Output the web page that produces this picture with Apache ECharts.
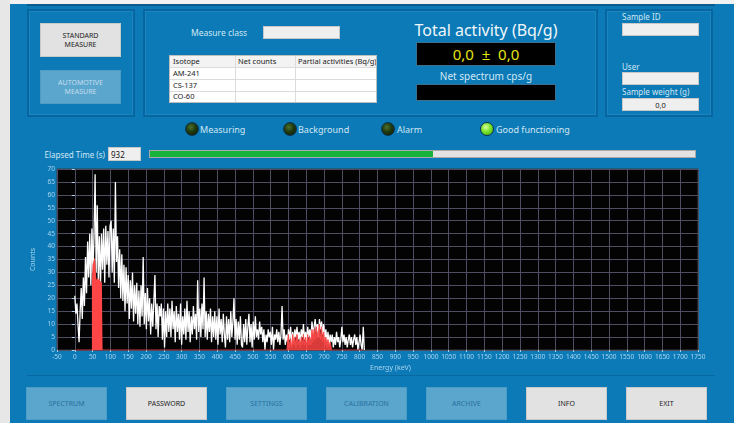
<!DOCTYPE html>
<html>
<head>
<meta charset="utf-8">
<script src="https://cdn.jsdelivr.net/npm/echarts@6/dist/echarts.min.js"></script>
<style>
  html,body{margin:0;padding:0;width:734px;height:423px;overflow:hidden;background:#f2f2f2;font-family:'Noto Sans','Open Sans',sans-serif;}
  .abs{position:absolute;box-sizing:border-box;}
  #main{left:10px;top:4px;width:724px;height:419px;background:#0b7ab6;}
  #leftstrip{left:0;top:0;width:10px;height:423px;background:#e7e7e7;}
  #topline{left:27px;top:4px;width:688px;height:2px;background:#0a5c8f;}
  .panel{border:2px solid #0766a0;box-shadow:inset 0 0 0 1px #1a86c0;}
  .btn{display:flex;align-items:center;justify-content:center;text-align:center;font-size:7px;line-height:9px;}
  .gbtn{background:#e2e2e2;border:1px solid #c9c9c9;color:#222;}
  .bbtn{background:#5ba6cd;border:1px solid #4d9cc6;color:#2a70a0;}
  .lbl{color:#d2e7f4;white-space:nowrap;}
  .inp{background:#efefef;border:1px solid #c8c8c8;}
  .blk{background:#000;border:1px solid #3d6f8f;}
  .led{width:14px;height:14px;border-radius:50%;border:1px solid #0d3350;}
  .ledoff{background:radial-gradient(circle at 40% 35%,#4d7030 0,#1f3a0e 45%,#0c1806 100%);}
  .ledon{background:radial-gradient(circle at 40% 35%,#d8ff9a 0,#77e42a 45%,#3f9d12 100%);}
  .cell{position:absolute;font-size:7.5px;color:#222;line-height:11px;padding-left:3px;white-space:nowrap;box-sizing:border-box;height:12px;border-bottom:1px solid #dcdcdc;}
  .vl{position:absolute;top:0;width:1px;height:46px;background:#dcdcdc;}
  #chart{left:0;top:0;width:734px;height:423px;}
</style>
</head>
<body>
<div class="abs" id="leftstrip"></div>
<div class="abs" id="main"></div>
<div class="abs" id="topline"></div>

<div class="abs panel" style="left:27px;top:9px;width:108px;height:108px;"></div>
<div class="abs panel" style="left:143px;top:9px;width:455px;height:108px;"></div>
<div class="abs panel" style="left:605px;top:9px;width:108px;height:108px;"></div>

<div class="abs btn gbtn" style="left:40px;top:23px;width:81px;height:34px;">STANDARD<br>MEASURE</div>
<div class="abs btn" style="left:40px;top:70px;width:81px;height:34px;background:#5ba6cd;border:1px solid #4d9cc6;color:#c3ddee;">AUTOMOTIVE<br>MEASURE</div>

<div class="abs lbl" style="left:191px;top:27px;font-size:8.5px;">Measure class</div>
<div class="abs inp" style="left:263px;top:26px;width:77px;height:13px;"></div>

<div class="abs" style="left:169px;top:55px;width:208px;height:48px;background:#fff;border:1px solid #bdbdbd;overflow:hidden;">
  <div class="cell" style="left:0;top:0;width:206px;background:#f3f3f3;"></div>
  <div class="cell" style="left:0;top:0;width:65px;">Isotope</div>
  <div class="cell" style="left:65px;top:0;width:60px;">Net counts</div>
  <div class="cell" style="left:125px;top:0;width:81px;">Partial activities (Bq/g)</div>
  <div class="cell" style="left:0;top:12px;width:206px;">AM-241</div>
  <div class="cell" style="left:0;top:24px;width:206px;">CS-137</div>
  <div class="cell" style="left:0;top:35px;width:206px;border-bottom:none;">CO-60</div>
  <div class="vl" style="left:65px;"></div>
  <div class="vl" style="left:125px;"></div>
</div>

<div class="abs" style="left:406px;top:19px;width:160px;text-align:center;color:#f2f7fb;font-size:16px;">Total activity (Bq/g)</div>
<div class="abs blk" style="left:416px;top:42px;width:140px;height:24px;text-align:center;color:#e4e414;font-size:15px;line-height:22px;">0,0 &nbsp;±&nbsp; 0,0</div>
<div class="abs" style="left:406px;top:69px;width:160px;text-align:center;color:#d2e7f4;font-size:10px;">Net spectrum cps/g</div>
<div class="abs blk" style="left:416px;top:84px;width:140px;height:17px;"></div>

<div class="abs lbl" style="left:622px;top:11px;font-size:8px;">Sample ID</div>
<div class="abs inp" style="left:622px;top:23px;width:77px;height:13px;"></div>
<div class="abs lbl" style="left:622px;top:61px;font-size:8px;">User</div>
<div class="abs inp" style="left:622px;top:72px;width:77px;height:13px;"></div>
<div class="abs lbl" style="left:622px;top:86px;font-size:8px;">Sample weight (g)</div>
<div class="abs inp" style="left:622px;top:98px;width:77px;height:13px;text-align:center;font-size:7.5px;line-height:12px;color:#222;">0,0</div>

<div class="abs led ledoff" style="left:185px;top:122px;"></div>
<div class="abs lbl" style="left:200px;top:123px;font-size:9px;">Measuring</div>
<div class="abs led ledoff" style="left:283px;top:122px;"></div>
<div class="abs lbl" style="left:298px;top:123px;font-size:9px;">Background</div>
<div class="abs led ledoff" style="left:381px;top:122px;"></div>
<div class="abs lbl" style="left:397px;top:123px;font-size:9px;">Alarm</div>
<div class="abs led ledon" style="left:480px;top:122px;"></div>
<div class="abs lbl" style="left:496px;top:123px;font-size:9px;">Good functioning</div>

<div class="abs lbl" style="left:0;top:149px;width:105px;text-align:right;font-size:8px;">Elapsed Time (s)</div>
<div class="abs inp" style="left:108px;top:147px;width:33px;height:14px;font-size:8px;line-height:13px;padding-left:2px;color:#111;">932</div>
<div class="abs" style="left:149px;top:150px;width:547px;height:8px;background:#e3e3e3;border:1px solid #a9a9a9;">
  <div class="abs" style="left:0;top:0;width:283px;height:6px;background:#17b33a;"></div>
</div>

<div class="abs" style="left:27px;top:375px;width:688px;height:1px;background:#0868a2;"></div>
<div class="abs btn bbtn" style="left:26px;top:387px;width:81px;height:33px;">SPECTRUM</div>
<div class="abs btn gbtn" style="left:126px;top:387px;width:81px;height:33px;">PASSWORD</div>
<div class="abs btn bbtn" style="left:226px;top:387px;width:81px;height:33px;">SETTINGS</div>
<div class="abs btn bbtn" style="left:326px;top:387px;width:81px;height:33px;">CALIBRATION</div>
<div class="abs btn bbtn" style="left:426px;top:387px;width:81px;height:33px;">ARCHIVE</div>
<div class="abs btn gbtn" style="left:526px;top:387px;width:81px;height:33px;">INFO</div>
<div class="abs btn gbtn" style="left:626px;top:387px;width:81px;height:33px;">EXIT</div>

<div class="abs" id="chart"></div>

<script>
// ---- data ----
const CH_STEP_KEV = 3; // channel width (keV); channel i at i*3 keV
const spectrumCounts = [
  21,14,18,10,3,15,24,12,28,17,
  36,22,42,28,45,25,47,30,45,68,
  30,56,27,44,24,45,31,47,26,48,
  33,46,28,48,50,30,47,26,65,34,
  44,24,39,20,37,19,33,15,32,18,
  29,12,27,16,30,11,25,14,26,10,
  23,9,25,13,36,10,22,8,24,11,
  20,6,18,9,19,29,8,18,5,17,
  13,18,4,16,1,15,5,18,7,16,
  5,19,8,15,3,17,7,14,4,18,
  2,13,6,16,4,19,7,15,3,13,
  6,17,8,14,4,27,7,16,5,18,
  8,28,5,15,4,14,7,16,3,13,
  5,15,4,13,2,16,6,12,3,14,
  6,1,13,4,12,3,15,5,11,20,
  4,12,2,11,4,13,2,1,10,3,
  12,2,9,14,3,10,1,11,4,13,
  5,8,4,11,6,9,3,8,0,6,
  3,8,5,7,2,9,0,6,4,8,
  3,7,2,6,17,4,8,2,6,3,
  8,4,9,2,7,3,8,5,9,4,
  7,3,8,5,10,4,7,3,9,5,
  8,4,11,6,9,12,7,10,5,12,
  8,11,6,10,4,8,3,7,2,6,
  3,6,1,5,2,7,3,5,1,4,
  9,3,6,2,5,1,4,6,2,5,
  1,4,6,2,5,0,3,6,2,0,
  9,0
];
// Region of interest 1 (Am-241 window), keV and counts
const roi1Energy = [48,48,50,52,54,56,58,60,62,64,66,68,70,72,74,76,78,78];
const roi1Counts = [0,26,33,34,35,36,33,28,27,28,27,28,27,27,27,26,26,0];
// Region of interest 2 (Cs-137 window), keV and counts
const roi2Energy = [596,597,600,603,606,609,612,615,618,621,624,627,630,633,636,639,642,645,648,651,654,657,660,663,666,669,672,675,678,681,684,687,690,693,696,699,702,705,708,711,714,717,720,720];
const roi2Counts = [0,3,6,1,4,1,6,2,5,1,6,2,4,1,5,2,6,2,5,1,6,2,5,2,8,3,8,4,9,5,7,10,4,9,3,7,2,5,1,4,1,3,1,0];
const baselineEnergy = [0, 810];
const xMin = -50, xMax = 1750, xStep = 50;
const yMin = 0, yMax = 70, yStep = 5;

// ---- build ----
const specData = spectrumCounts.map((c, i) => [i * CH_STEP_KEV, c]);
const roi1Data = roi1Energy.map((e, i) => [e, roi1Counts[i]]);
const roi2Data = roi2Energy.map((e, i) => [e, roi2Counts[i]]);
const baseData = baselineEnergy.map(e => [e, 0]);

const labelColor = '#a9d4ef';
const chart = echarts.init(document.getElementById('chart'), null, {renderer: 'canvas'});
chart.setOption({
  animation: false,
  backgroundColor: 'transparent',
  grid: {left: 57, top: 169, right: 36, bottom: 73, show: true, backgroundColor: '#030303', borderColor: '#3c3c46', borderWidth: 1},
  xAxis: {
    type: 'value', min: xMin, max: xMax, interval: xStep,
    name: 'Energy (keV)', nameLocation: 'middle', nameGap: 14,
    nameTextStyle: {color: labelColor, fontSize: 7, fontFamily: 'Noto Sans', padding: [0, 0, 0, 26]},
    axisLine: {show: false},
    axisTick: {show: true, length: 2, lineStyle: {color: labelColor}},
    axisLabel: {color: labelColor, fontSize: 6.5, fontFamily: 'Noto Sans', margin: 4, interval: 0, showMinLabel: true, showMaxLabel: true,
      formatter: v => String(v)},
    splitLine: {show: true, lineStyle: {color: '#4f4d62', width: 1}}
  },
  yAxis: {
    type: 'value', min: yMin, max: yMax, interval: yStep,
    name: 'Counts', nameLocation: 'middle', nameGap: 18,
    nameTextStyle: {color: labelColor, fontSize: 7, fontFamily: 'Noto Sans'},
    axisLine: {show: false},
    axisTick: {show: true, length: 3, lineStyle: {color: labelColor}},
    axisLabel: {color: labelColor, fontSize: 6.5, fontFamily: 'Noto Sans', margin: 2},
    splitLine: {show: true, lineStyle: {color: '#4f4d62', width: 1}}
  },
  series: [
    {type: 'line', data: specData, symbol: 'none', lineStyle: {color: '#ffffff', width: 1.3}, z: 2},
    {type: 'line', data: baseData, symbol: 'none', lineStyle: {color: '#b02020', width: 1}, z: 3},
    {type: 'line', data: roi1Data, symbol: 'none', lineStyle: {width: 0}, areaStyle: {color: '#ff4545', opacity: 1}, z: 4},
    {type: 'line', data: roi2Data, symbol: 'none', lineStyle: {color: '#ff4a4a', width: 1}, areaStyle: {color: '#ff4545', opacity: 0.85}, z: 4}
  ]
});
</script>
</body>
</html>
